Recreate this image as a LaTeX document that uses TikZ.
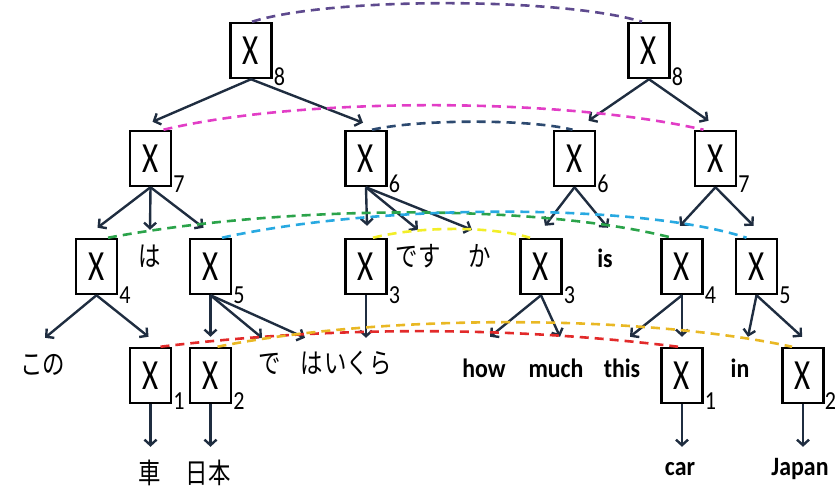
\documentclass[tikz,border=0pt]{standalone}
\usepackage{fontspec}
\usetikzlibrary{arrows.meta}
\newfontfamily\xfont[FakeStretch=0.72]{Carlito}
\newfontfamily\subfont[FakeStretch=0.85]{Carlito}
\newfontfamily\enfont[FakeStretch=0.9]{Carlito}
\newfontfamily\jafont[FakeStretch=0.8]{Noto Sans CJK JP}
\definecolor{arrc}{HTML}{1F2D40}
\definecolor{cpurple}{HTML}{5E4A8E}
\definecolor{cmag}{HTML}{E23DC6}
\definecolor{cnavy}{HTML}{2D4A70}
\definecolor{cgreen}{HTML}{2BA34A}
\definecolor{ccyan}{HTML}{28A9E1}
\definecolor{cyel}{HTML}{F2EE28}
\definecolor{cred}{HTML}{E22A2A}
\definecolor{cgold}{HTML}{E9B824}
\begin{document}
\begin{tikzpicture}[x=1pt,y=-1pt,
  xbox/.style={draw=black, fill=white, line width=2.5pt, minimum width=41pt, minimum height=55pt, inner sep=0pt, font=\xfont\fontsize{43}{43}\selectfont},
  sub/.style={anchor=west, inner sep=1pt, font=\subfont\fontsize{26}{26}\selectfont},
  jw/.style={inner sep=0pt, anchor=base, font=\jafont\fontsize{28}{28}\selectfont},
  ew/.style={inner sep=0pt, anchor=base, font=\enfont\bfseries\fontsize{26.5}{26.5}\selectfont},
  arr/.style={draw=arrc, line width=2.4pt, -{Straight Barb[length=5.5pt,width=12pt]}},
  link/.style={line width=2.6pt, dash pattern=on 9pt off 6pt}]
\useasboundingbox (0,0) rectangle (835,489);
% boxes
\node[xbox] (l8) at (251,50.5) {X};
\node[xbox] (r8) at (649,50.5) {X};
\node[xbox] (l7) at (150.5,158.5) {X};
\node[xbox] (l6) at (366,158.5) {X};
\node[xbox] (r6) at (574.5,158.5) {X};
\node[xbox] (r7) at (715.5,158.5) {X};
\node[xbox] (l4) at (96.5,266.5) {X};
\node[xbox] (l5) at (210.5,266.5) {X};
\node[xbox] (l3) at (366,266.5) {X};
\node[xbox] (r3) at (541,266.5) {X};
\node[xbox] (r4) at (682,266.5) {X};
\node[xbox] (r5) at (756.5,266.5) {X};
\node[xbox] (l1) at (150.5,375.5) {X};
\node[xbox] (l2) at (210.5,375.5) {X};
\node[xbox] (r1) at (682,375.5) {X};
\node[xbox] (r2) at (803,375.5) {X};
% subscripts
\node[sub] (sl8) at ([yshift=3pt]l8.south east) {8};
\node[sub] (sr8) at ([yshift=3pt]r8.south east) {8};
\node[sub] (sl7) at ([yshift=3pt]l7.south east) {7};
\node[sub] (sl6) at ([yshift=3pt]l6.south east) {6};
\node[sub] (sr6) at ([yshift=3pt]r6.south east) {6};
\node[sub] (sr7) at ([yshift=3pt]r7.south east) {7};
\node[sub] (sl4) at (l4.south east) {4};
\node[sub] (sl5) at (l5.south east) {5};
\node[sub] (sl3) at (l3.south east) {3};
\node[sub] (sr3) at (r3.south east) {3};
\node[sub] (sr4) at (r4.south east) {4};
\node[sub] (sr5) at (r5.south east) {5};
\node[sub] (sl1) at ([yshift=3pt]l1.south east) {1};
\node[sub] (sl2) at ([yshift=3pt]l2.south east) {2};
\node[sub] (sr1) at ([yshift=3pt]r1.south east) {1};
\node[sub, inner sep=0pt] (sr2) at ([yshift=3pt]r2.south east) {2};
% words
\node[jw, text height=36.5pt] (ha1) at (150,266.5) {は};
\node[jw, text height=36.5pt] (desu) at (418,266.5) {です};
\node[jw, text height=36.5pt] (ka) at (480,266.5) {か};
\node[ew, text height=39pt] (is) at (605,267) {is};
\node[jw, text height=36pt] (kono) at (43,374) {この};
\node[jw, text height=35.5pt] (de) at (270,373.5) {で};
\node[jw, text height=35.5pt] (ha2) at (312,373.5) {は};
\node[jw, text height=35.5pt] (ikura) at (358,373.5) {いくら};
\node[ew, text height=40pt] (how) at (484,377) {how};
\node[ew, text height=40pt] (much) at (556,377) {much};
\node[ew, text height=40pt] (this) at (622,377) {this};
\node[ew, text height=40pt] (in) at (740,377) {in};
\node[jw, text height=36pt] (kuruma) at (150,483) {車};
\node[jw, text height=36pt] (nihon) at (208,483) {日本};
\node[ew, text height=28pt] (car) at (680,475) {car};
\node[ew, text height=28pt] (japan) at (800,475) {Japan};
% arrows
\draw[arr] (l8.south) -- ([xshift=2pt,yshift=8pt]l7.north);
\draw[arr] (l8.south) -- ([xshift=-3pt,yshift=7pt]l6.north);
\draw[arr] (r8.south) -- ([xshift=14pt,yshift=9pt]r6.north);
\draw[arr] (r8.south) -- ([xshift=-7pt,yshift=9pt]r7.north);
\draw[arr] (l7.south) -- ([xshift=1pt,yshift=10pt]l4.north);
\draw[arr] (l7.south) -- (ha1.north);
\draw[arr] (l7.south) -- ([xshift=-7pt,yshift=10pt]l5.north);
\draw[arr] (l6.south) -- ([xshift=1pt,yshift=12pt]l3.north);
\draw[arr] (l6.south) -- (desu.north);
\draw[arr] (l6.south) -- ([xshift=-8pt]ka.north);
\draw[arr] (r6.south) -- ([xshift=4pt,yshift=12pt]r3.north);
\draw[arr] (r6.south) -- ([xshift=3pt]is.north);
\draw[arr] (r7.south) -- ([xshift=-2pt,yshift=12pt]r4.north);
\draw[arr] (r7.south) -- ([xshift=-3pt,yshift=12pt]r5.north);
\draw[arr] (l4.south) -- ([xshift=2pt]kono.north);
\draw[arr] (l4.south) -- ([xshift=-2pt,yshift=10pt]l1.north);
\draw[arr] (l5.south) -- ([yshift=10pt]l2.north);
\draw[arr] (l5.south) -- ([xshift=-8pt]de.north);
\draw[arr] (l5.south) -- ([xshift=-7pt]ha2.north);
\draw[arr] (l3.south) -- (l3.south |- ikura.north);
\draw[arr] (r3.south) -- ([xshift=6pt]how.north);
\draw[arr] (r3.south) -- ([xshift=4pt]much.north);
\draw[arr] (r4.south) -- ([xshift=8pt]this.north);
\draw[arr] (r4.south) -- ([yshift=10pt]r1.north);
\draw[arr] (r5.south) -- ([xshift=8pt]in.north);
\draw[arr] (r5.south) -- ([xshift=-1pt,yshift=10pt]r2.north);
\draw[arr] (l1.south) -- (l1.south |- kuruma.north);
\draw[arr] (l2.south) -- (l2.south |- nihon.north);
\draw[arr] (r1.south) -- (r1.south |- car.north);
\draw[arr] (r2.south) -- (r2.south |- japan.north);
% alignment links
\draw[link, cpurple] ([xshift=1pt]l8.north) .. controls (330,-3) and (560,-3) .. ([xshift=-7pt]r8.north);
\draw[link, cmag] ([xshift=13pt]l7.north) .. controls (300,97) and (560,97) .. ([xshift=-12pt]r7.north);
\draw[link, cnavy] ([xshift=6pt]l6.north) .. controls (420,119) and (530,119) .. ([xshift=-2pt]r6.north);
\draw[link, cgreen] ([xshift=11.5pt]l4.north) .. controls (290,204) and (540,204) .. ([xshift=-10pt]r4.north);
\draw[link, ccyan] ([xshift=11.5pt]l5.north) .. controls (380,203) and (640,203) .. ([xshift=-10pt]r5.north);
\draw[link, cyel] ([xshift=7pt]l3.north) .. controls (420,226) and (490,226) .. ([xshift=-11pt]r3.north);
\draw[link, cred] ([xshift=10pt]l1.north) .. controls (330,326) and (510,326) .. ([xshift=-4pt]r1.north);
\draw[link, cgold] ([xshift=7pt]l2.north) .. controls (380,314) and (640,314) .. ([xshift=-11pt]r2.north);
\end{tikzpicture}
\end{document}
